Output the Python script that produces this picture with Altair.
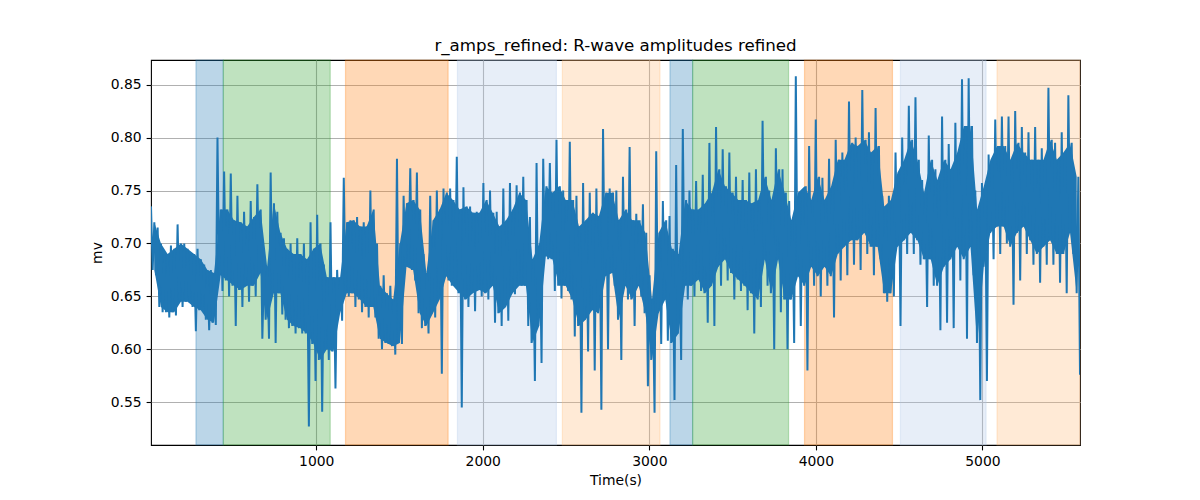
import altair as alt
import pandas as pd
import numpy as np

# ---- data (one entry per ~40 s window) ----
# extreme spikes of the trace
amp_hi = [0.735, 0.715, 0.69, 0.698, 0.718, 0.70, 0.69, 0.695, 0.68, 0.675, 0.80, 0.768,
          0.766, 0.745, 0.73, 0.74, 0.756, 0.675, 0.767, 0.73, 0.705, 0.70, 0.705, 0.70,
          0.72, 0.727, 0.68, 0.72, 0.675, 0.762, 0.722, 0.725, 0.72, 0.75, 0.70, 0.67,
          0.66, 0.78, 0.745, 0.771, 0.767, 0.69, 0.745, 0.75, 0.752, 0.752, 0.782,
          0.753, 0.735, 0.73, 0.757, 0.75, 0.73, 0.752, 0.757, 0.755, 0.763, 0.725, 0.776,
          0.78, 0.776, 0.798, 0.75, 0.796, 0.745, 0.757, 0.748, 0.752, 0.808, 0.752,
          0.75, 0.763, 0.791, 0.728, 0.737, 0.67, 0.787, 0.74, 0.726, 0.774, 0.808, 0.75,
          0.759, 0.765, 0.795, 0.81, 0.789, 0.786, 0.763, 0.76, 0.767, 0.77, 0.816, 0.75,
          0.79, 0.77, 0.74, 0.858, 0.75, 0.792, 0.817, 0.762, 0.78, 0.798, 0.786, 0.834,
          0.80, 0.845, 0.805, 0.828, 0.745, 0.745, 0.786, 0.80, 0.83, 0.838, 0.76,
          0.802, 0.77, 0.82, 0.794, 0.814, 0.855, 0.856, 0.75, 0.757, 0.784, 0.817, 0.82,
          0.82, 0.825, 0.81, 0.805, 0.81, 0.79, 0.847, 0.795, 0.805, 0.84, 0.75]
amp_lo = [0.67, 0.635, 0.63, 0.632, 0.64, 0.645, 0.617, 0.64, 0.618, 0.623, 0.655, 0.65,
          0.622, 0.64, 0.645, 0.65, 0.61, 0.61, 0.606, 0.633, 0.62, 0.615, 0.615, 0.527,
          0.57, 0.541, 0.59, 0.563, 0.627, 0.65, 0.64, 0.635, 0.63, 0.63, 0.60, 0.605,
          0.595, 0.605, 0.68, 0.665, 0.62, 0.615, 0.63, 0.577, 0.665, 0.66, 0.545,
          0.64, 0.636, 0.65, 0.647, 0.625, 0.622, 0.627, 0.652, 0.66, 0.622, 0.57, 0.587,
          0.685, 0.655, 0.648, 0.655, 0.612, 0.54, 0.598, 0.58, 0.543, 0.60, 0.66,
          0.59, 0.647, 0.622, 0.65, 0.565, 0.54, 0.605, 0.608, 0.552, 0.59, 0.647, 0.65,
          0.655, 0.625, 0.622, 0.66, 0.665, 0.647, 0.655, 0.637, 0.615, 0.64, 0.66, 0.60,
          0.635, 0.60, 0.606, 0.622, 0.58, 0.66, 0.65, 0.66, 0.63, 0.665, 0.67, 0.68,
          0.675, 0.69, 0.67, 0.685, 0.645, 0.65, 0.622, 0.69, 0.69, 0.68, 0.64,
          0.66, 0.618, 0.625, 0.62, 0.665, 0.61, 0.67, 0.552, 0.57, 0.685, 0.69, 0.70,
          0.642, 0.665, 0.69, 0.68, 0.663, 0.68, 0.68, 0.663, 0.653, 0.69, 0.576]
# upper / lower edge of the dense part of the trace
mass_hi = [0.72, 0.70, 0.69, 0.695, 0.70, 0.695, 0.69, 0.685, 0.675, 0.672, 0.732, 0.732,
           0.722, 0.72, 0.716, 0.725, 0.732, 0.678, 0.738, 0.71, 0.695, 0.69, 0.69, 0.685,
           0.695, 0.70, 0.668, 0.668, 0.668, 0.72, 0.722, 0.716, 0.716, 0.732, 0.66, 0.653,
           0.647, 0.70, 0.738, 0.741, 0.732, 0.672, 0.722, 0.732, 0.748, 0.741, 0.732,
           0.735, 0.729, 0.729, 0.741, 0.729, 0.716, 0.722, 0.732, 0.748, 0.741, 0.685, 0.70,
           0.754, 0.748, 0.754, 0.741, 0.741, 0.716, 0.722, 0.729, 0.726, 0.748, 0.748,
           0.722, 0.732, 0.722, 0.722, 0.71, 0.647, 0.71, 0.722, 0.695, 0.69, 0.741, 0.732,
           0.732, 0.738, 0.748, 0.77, 0.754, 0.748, 0.741, 0.741, 0.738, 0.741, 0.763, 0.741,
           0.77, 0.748, 0.722, 0.748, 0.754, 0.741, 0.763, 0.741, 0.754, 0.779, 0.779, 0.795,
           0.792, 0.798, 0.786, 0.792, 0.735, 0.741, 0.767, 0.779, 0.798, 0.779, 0.748,
           0.779, 0.76, 0.779, 0.77, 0.786, 0.811, 0.811, 0.732, 0.754, 0.779, 0.792, 0.792,
           0.779, 0.795, 0.786, 0.779, 0.779, 0.779, 0.798, 0.779, 0.786, 0.795, 0.763]
mass_lo = [0.675, 0.64, 0.635, 0.635, 0.645, 0.645, 0.64, 0.637, 0.628, 0.625, 0.67, 0.665,
           0.66, 0.656, 0.66, 0.66, 0.672, 0.628, 0.653, 0.653, 0.628, 0.622, 0.62, 0.615,
           0.605, 0.59, 0.60, 0.598, 0.634, 0.653, 0.653, 0.647, 0.64, 0.64, 0.61, 0.606,
           0.603, 0.606, 0.678, 0.675, 0.634, 0.622, 0.634, 0.647, 0.669, 0.66, 0.653,
           0.647, 0.653, 0.656, 0.653, 0.66, 0.634, 0.64, 0.653, 0.66, 0.66, 0.606, 0.622,
           0.688, 0.685, 0.66, 0.66, 0.647, 0.622, 0.628, 0.637, 0.634, 0.669, 0.672,
           0.628, 0.66, 0.647, 0.66, 0.634, 0.59, 0.634, 0.647, 0.606, 0.615, 0.66, 0.66,
           0.666, 0.653, 0.66, 0.678, 0.685, 0.672, 0.666, 0.66, 0.653, 0.647, 0.685, 0.653,
           0.685, 0.647, 0.647, 0.669, 0.66, 0.678, 0.669, 0.678, 0.669, 0.69, 0.697, 0.703,
           0.703, 0.71, 0.697, 0.697, 0.653, 0.653, 0.697, 0.703, 0.71, 0.703, 0.685,
           0.685, 0.66, 0.678, 0.685, 0.697, 0.685, 0.697, 0.606, 0.678, 0.71, 0.716, 0.716,
           0.697, 0.71, 0.716, 0.703, 0.69, 0.697, 0.703, 0.69, 0.69, 0.71, 0.653]

t_start, t_end = 8, 5586

band_start = [278, 442, 1176, 1848, 2478, 3124, 3260, 3932, 4508, 5088]
band_end = [442, 1084, 1792, 2442, 3064, 3260, 3836, 4460, 5022, 5586]
band_color = ["#1f77b4", "#2ca02c", "#ff7f0e", "#aec7e8", "#ffbb78",
              "#1f77b4", "#2ca02c", "#ff7f0e", "#aec7e8", "#ffbb78"]

y_ticks = [0.55, 0.60, 0.65, 0.70, 0.75, 0.80, 0.85]
x_ticks = [1000, 2000, 3000, 4000, 5000]

# ---- tables ----
vals = []
for h, ml, mh, l in zip(amp_hi, mass_lo, mass_hi, amp_lo):
    vals += [h, ml, mh, l]
t_line = np.linspace(t_start, t_end, len(vals))
line_df = pd.DataFrame({"t": t_line, "amp": vals})

n = len(mass_hi)
step = (t_end - t_start) / n
t_mass = t_start + step * (np.arange(n) + 0.5)
mass_df = pd.DataFrame({"t": t_mass, "hi": mass_hi, "lo": mass_lo})

band_df = pd.DataFrame({"s": band_start, "e": band_end, "c": band_color})

W, H = 929, 385
xs = alt.Scale(domain=[t_start, t_end], nice=False, zero=False)
ys = alt.Scale(domain=[0.5096, 0.8733], nice=False, zero=False)

bands = alt.Chart(band_df).mark_rect(fillOpacity=0.3, strokeOpacity=0.3, strokeWidth=1.2).encode(
    x=alt.X("s:Q", scale=xs, axis=alt.Axis(values=x_ticks, format="d", title="Time(s)")),
    x2="e:Q",
    y=alt.value(0),
    y2=alt.value(H),
    fill=alt.Color("c:N", scale=None),
    stroke=alt.Color("c:N", scale=None),
)

mass = alt.Chart(mass_df).mark_area(color="#1f77b4", interpolate="linear").encode(
    x=alt.X("t:Q", scale=xs),
    y=alt.Y("lo:Q", scale=ys, axis=alt.Axis(values=y_ticks, format=".2f", title="mv")),
    y2="hi:Q",
)

line = alt.Chart(line_df).mark_line(color="#1f77b4", strokeWidth=2.0, clip=True).encode(
    x=alt.X("t:Q", scale=xs),
    y=alt.Y("amp:Q", scale=ys),
)

chart = alt.layer(bands, mass, line).properties(
    width=W,
    height=H,
    title=alt.TitleParams(
        "r_amps_refined: R-wave amplitudes refined",
        font="DejaVu Sans", fontSize=16.7, fontWeight="normal", color="black",
        anchor="middle", offset=8, dy=16, baseline="alphabetic", frame="group",
    ),
    autosize=alt.AutoSizeParams(type="none"),
    padding={"left": 143, "top": 52, "right": 112, "bottom": 47},
).configure_view(
    stroke="black", strokeWidth=1.1
).configure_axis(
    grid=True, gridColor="#b0b0b0", gridWidth=1.1,
    domain=False, ticks=True, tickColor="black", tickSize=4.9, tickWidth=1.1,
    labelFont="DejaVu Sans", labelFontSize=13.9, labelColor="black", labelPadding=4.9,
    titleFont="DejaVu Sans", titleFontSize=13.9, titleFontWeight="normal", titleColor="black",
).configure_axisX(titlePadding=5).configure_axisY(titlePadding=6)

chart.save("out.html", embed_options={"renderer": "svg", "actions": False})
